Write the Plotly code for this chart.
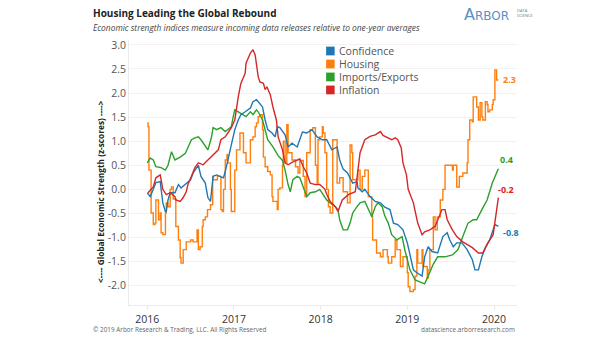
import plotly.graph_objects as go

# ---------------- data (decimal years, z-scores) ----------------
conf_x = [2016.00, 2016.035, 2016.07, 2016.10, 2016.15, 2016.16, 2016.18, 2016.21, 2016.22, 2016.24,
          2016.265, 2016.32, 2016.36, 2016.39, 2016.44, 2016.50, 2016.53, 2016.565, 2016.59, 2016.62,
          2016.67, 2016.70, 2016.73, 2016.76, 2016.80, 2016.84, 2016.88, 2016.90, 2016.93, 2016.97,
          2017.01, 2017.05, 2017.08, 2017.13, 2017.19, 2017.22, 2017.26, 2017.28, 2017.33, 2017.36,
          2017.39, 2017.44, 2017.475, 2017.50, 2017.53, 2017.59, 2017.625, 2017.67, 2017.73, 2017.79,
          2017.84, 2017.90, 2017.96, 2018.02, 2018.07, 2018.13, 2018.19, 2018.22, 2018.26, 2018.31,
          2018.34, 2018.37, 2018.42, 2018.43, 2018.48, 2018.51, 2018.57, 2018.63, 2018.69, 2018.74,
          2018.80, 2018.84, 2018.89, 2018.95, 2019.00, 2019.03, 2019.07, 2019.11, 2019.17, 2019.20,
          2019.24, 2019.285, 2019.35, 2019.41, 2019.46, 2019.49, 2019.53, 2019.57, 2019.63, 2019.69,
          2019.75, 2019.78, 2019.82, 2019.86, 2019.90, 2019.95, 2019.99, 2020.01, 2020.05]
conf_y = [-0.07, -0.15, 0.0, 0.14, 0.16, 0.0, -0.28, -0.46, -0.46, -0.22,
          -0.07, -0.07, 0.10, 0.03, 0.10, 0.20, 0.34, 0.45, 0.50, 0.27,
          0.13, -0.17, -0.25, 0.27, 0.30, 0.27, 0.24, 0.37, 0.61, 0.96,
          1.24, 1.44, 1.55, 1.61, 1.69, 1.82, 1.86, 1.82, 1.71, 1.44,
          1.24, 1.17, 1.09, 1.30, 1.28, 1.13, 0.88, 0.96, 0.88, 1.19,
          1.17, 1.24, 1.09, 1.03, 1.03, 0.82, 0.88, 0.61, 0.42, 0.34,
          0.24, 0.13, 0.16, 0.03, -0.05, 0.0, -0.15, -0.25, -0.28, -0.37,
          -0.42, -0.70, -0.73, -0.84, -1.11, -1.36, -1.67, -1.73, -1.80, -1.40,
          -1.19, -1.29, -1.32, -0.98, -0.90, -1.05, -1.19, -1.11, -1.11, -1.25,
          -1.46, -1.67, -1.67, -1.40, -1.21, -1.05, -0.84, -0.73, -0.77]

hous_x = [2016.00, 2016.01, 2016.02, 2016.045, 2016.07, 2016.09, 2016.10, 2016.13, 2016.15, 2016.16,
          2016.18, 2016.21, 2016.22, 2016.24, 2016.265, 2016.28, 2016.30, 2016.33, 2016.36, 2016.38,
          2016.39, 2016.415, 2016.45, 2016.50, 2016.53, 2016.565, 2016.575, 2016.59, 2016.61, 2016.635,
          2016.645, 2016.67, 2016.695, 2016.73, 2016.755, 2016.76, 2016.81, 2016.84, 2016.85, 2016.865,
          2016.88, 2016.90, 2016.92, 2016.93, 2016.96, 2016.97, 2016.99, 2017.01, 2017.03, 2017.07,
          2017.11, 2017.14, 2017.19, 2017.22, 2017.245, 2017.26, 2017.28, 2017.30, 2017.33, 2017.34,
          2017.36, 2017.39, 2017.42, 2017.44, 2017.45, 2017.50, 2017.51, 2017.53, 2017.56, 2017.57,
          2017.59, 2017.61, 2017.625, 2017.67, 2017.71, 2017.74, 2017.76, 2017.80, 2017.82, 2017.84,
          2017.88, 2017.91, 2017.94, 2017.96, 2017.97, 2017.99, 2018.02, 2018.03, 2018.05, 2018.07,
          2018.09, 2018.11, 2018.14, 2018.17, 2018.19, 2018.22, 2018.26, 2018.31, 2018.34, 2018.36,
          2018.37, 2018.43, 2018.455, 2018.48, 2018.51, 2018.55, 2018.59, 2018.60, 2018.645, 2018.69,
          2018.72, 2018.77, 2018.78, 2018.82, 2018.86, 2018.88, 2018.92, 2018.95, 2019.00, 2019.01,
          2019.03, 2019.07, 2019.09, 2019.11, 2019.12, 2019.17, 2019.18, 2019.23, 2019.24, 2019.26,
          2019.30, 2019.32, 2019.345, 2019.38, 2019.41, 2019.435, 2019.47, 2019.52, 2019.53, 2019.57,
          2019.60, 2019.64, 2019.69, 2019.70, 2019.72, 2019.75, 2019.76, 2019.78, 2019.80, 2019.82,
          2019.84, 2019.86, 2019.87, 2019.90, 2019.92, 2019.93, 2019.95, 2019.98, 2019.99, 2020.01,
          2020.03, 2020.05]
hous_y = [1.38, 1.30, 0.40, -0.49, -0.73, -0.70, -0.22, -0.63, -0.49, -0.90,
          -0.94, -0.49, -0.28, -0.36, 0.0, 0.05, -0.20, -0.77, -1.05, -1.42,
          -1.53, -1.25, -1.09, -1.05, -1.09, -1.09, -0.84, -1.25, -1.19, -0.77,
          -0.63, -0.57, -0.42, -0.32, 0.27, 0.20, 0.27, 0.27, -0.42, -0.46,
          0.0, 0.61, 0.72, 0.55, 0.0, -0.46, -0.46, 0.40, 0.82, 1.17,
          0.76, 0.55, 1.03, 1.09, 1.30, 1.38, 1.51, 1.55, 1.24, 0.67,
          0.47, 0.37, 0.30, -0.15, -0.25, -0.42, 0.0, 0.03, 0.50, 1.00,
          0.55, 1.34, 0.76, 0.61, 0.47, 0.34, 0.60, 0.27, -0.15, 0.76,
          1.24, 1.28, 0.50, 0.13, 1.03, 1.09, 1.30, 1.17, 0.76, 0.0,
          -0.36, -0.49, 1.03, 1.03, 0.13, 0.24, -0.05, -0.28, 0.92, 0.76,
          0.20, 0.40, 0.0, 0.27, 0.40, -0.15, -0.57, -1.05, -1.32, -1.40,
          -1.25, -1.40, -1.53, -1.40, -1.05, -1.25, -1.60, -1.40, -1.73, -2.02,
          -2.12, -2.08, -1.80, -1.25, -1.53, -1.25, -1.60, -1.84, -1.67, -1.25,
          -0.57, -0.84, -0.57, -0.22, 0.0, 0.50, 0.50, 0.40, 0.50, 0.05,
          0.27, 0.34, 0.55, 1.03, 1.44, 1.40, 1.92, 1.92, 1.71, 1.44,
          1.80, 1.51, 1.44, 1.82, 1.76, 1.61, 1.65, 1.76, 1.86, 2.48,
          2.27, 2.27]

trade_x = [2016.00, 2016.035, 2016.07, 2016.10, 2016.16, 2016.21, 2016.24, 2016.265, 2016.28, 2016.32,
           2016.38, 2016.44, 2016.47, 2016.51, 2016.55, 2016.59, 2016.62, 2016.67, 2016.70, 2016.74,
           2016.76, 2016.80, 2016.85, 2016.90, 2016.93, 2016.97, 2016.99, 2017.01, 2017.05, 2017.11,
           2017.14, 2017.19, 2017.22, 2017.26, 2017.28, 2017.33, 2017.36, 2017.39, 2017.45, 2017.51,
           2017.56, 2017.59, 2017.625, 2017.65, 2017.68, 2017.73, 2017.76, 2017.82, 2017.84, 2017.88,
           2017.94, 2017.99, 2018.03, 2018.07, 2018.11, 2018.17, 2018.20, 2018.22, 2018.26, 2018.31,
           2018.34, 2018.37, 2018.42, 2018.455, 2018.51, 2018.55, 2018.59, 2018.63, 2018.66, 2018.71,
           2018.74, 2018.78, 2018.82, 2018.88, 2018.94, 2018.97, 2019.03, 2019.09, 2019.15, 2019.20,
           2019.24, 2019.30, 2019.35, 2019.435, 2019.52, 2019.585, 2019.64, 2019.70, 2019.76, 2019.80,
           2019.86, 2019.92, 2019.98, 2020.01, 2020.05]
trade_y = [0.55, 0.65, 0.61, 0.47, 0.45, 0.40, 0.50, 0.71, 0.78, 0.61,
           0.67, 0.75, 0.86, 1.03, 1.07, 1.09, 1.03, 0.88, 0.82, 1.07,
           1.28, 1.24, 1.28, 1.20, 1.24, 1.30, 1.49, 1.65, 1.61, 1.55,
           1.51, 1.61, 1.55, 1.65, 1.61, 1.44, 1.24, 1.03, 0.88, 0.70,
           0.60, 0.40, 0.10, -0.05, 0.20, 0.27, 0.24, -0.07, -0.15, -0.07,
           -0.05, 0.0, -0.11, -0.22, -0.28, -0.36, -0.42, -0.63, -0.84, -0.84,
           -0.70, -0.49, -0.36, -0.28, -0.25, -0.42, -0.57, -0.36, -0.28, -0.36,
           -0.55, -0.70, -0.94, -1.05, -0.98, -1.25, -1.67, -1.88, -1.92, -1.96,
           -1.80, -1.55, -1.40, -1.40, -1.36, -1.25, -0.98, -0.70, -0.63, -0.63,
           -0.42, -0.22, 0.13, 0.27, 0.43]

infl_x = [2016.01, 2016.07, 2016.10, 2016.15, 2016.16, 2016.18, 2016.22, 2016.265, 2016.32, 2016.33,
          2016.38, 2016.415, 2016.45, 2016.47, 2016.51, 2016.55, 2016.59, 2016.645, 2016.70, 2016.76,
          2016.82, 2016.85, 2016.90, 2016.93, 2016.97, 2017.01, 2017.03, 2017.05, 2017.08, 2017.13,
          2017.14, 2017.19, 2017.22, 2017.245, 2017.28, 2017.30, 2017.34, 2017.36, 2017.38, 2017.42,
          2017.45, 2017.49, 2017.51, 2017.56, 2017.59, 2017.625, 2017.68, 2017.76, 2017.80, 2017.84,
          2017.88, 2017.94, 2017.99, 2018.05, 2018.07, 2018.11, 2018.17, 2018.20, 2018.25, 2018.32,
          2018.40, 2018.43, 2018.455, 2018.51, 2018.57, 2018.63, 2018.69, 2018.72, 2018.77, 2018.82,
          2018.86, 2018.89, 2018.93, 2018.95, 2018.99, 2019.01, 2019.07, 2019.12, 2019.17, 2019.20,
          2019.26, 2019.32, 2019.40, 2019.435, 2019.46, 2019.52, 2019.57, 2019.64, 2019.75, 2019.82,
          2019.87, 2019.93, 2019.99, 2020.01, 2020.05]
infl_y = [-0.07, 0.05, 0.24, 0.30, 0.20, 0.0, -0.11, -0.07, -0.15, -0.22,
          -0.25, -0.17, -0.05, 0.10, 0.27, 0.45, 0.55, 0.51, 0.61, 0.71,
          0.82, 1.03, 1.09, 1.17, 1.28, 1.44, 1.71, 1.92, 2.20, 2.41,
          2.62, 2.83, 2.90, 2.79, 2.34, 2.23, 2.20, 2.07, 2.13, 1.96,
          1.71, 1.44, 1.09, 0.82, 0.55, 0.51, 0.57, 0.63, 0.47, 0.34,
          0.13, 0.10, 0.10, 0.0, -0.10, -0.25, -0.36, -0.46, -0.22, -0.11,
          -0.05, 0.40, 0.76, 1.03, 1.10, 1.13, 1.20, 1.12, 1.07, 1.03,
          1.07, 1.03, 0.86, 0.55, 0.30, 0.0, -0.28, -0.70, -0.94, -0.88,
          -0.84, -0.77, -0.42, -0.42, -0.63, -0.84, -0.98, -1.09, -1.21, -1.32,
          -1.32, -1.11, -0.94, -0.69, -0.17]

series_names = ["Confidence", "Housing", "Imports/Exports", "Inflation"]
series_colors = ["#1f77b4", "#ff7f0e", "#2ca02c", "#d62728"]
end_labels = ["-0.8", "2.3", "0.4", "-0.2"]

y_ticks = [-2.0, -1.5, -1.0, -0.5, 0.0, 0.5, 1.0, 1.5, 2.0, 2.5, 3.0]
x_ticks = [2016, 2017, 2018, 2019, 2020]

FONT = "Open Sans"

fig = go.Figure()

series = [(conf_x, conf_y, "linear"), (hous_x, hous_y, "hv"),
          (trade_x, trade_y, "linear"), (infl_x, infl_y, "linear")]

# draw order: housing at back, then others
order = [1, 2, 0, 3]
for i in order:
    xs, ys, shape = series[i]
    fig.add_trace(go.Scatter(x=xs, y=ys, mode="lines", name=series_names[i],
                             line=dict(color=series_colors[i], width=1.4, shape=shape),
                             showlegend=False, hoverinfo="skip"))

# end-of-line labels
label_shift = {0: (3, -6), 1: (3, 0), 2: (0, 9), 3: (-2, 8)}
for i, (xs, ys, _) in enumerate(series):
    dx, dy = label_shift[i]
    fig.add_annotation(x=xs[-1], y=ys[-1], xref="x", yref="y", text="<b>" + end_labels[i] + "</b>",
                       showarrow=False, xanchor="left", yanchor="middle", xshift=dx, yshift=dy,
                       font=dict(family=FONT, size=9, color=series_colors[i]))

# legend (squares + text)
for k, i in enumerate(range(4)):
    ytop = 0.975 - k * 0.049
    fig.add_shape(type="rect", xref="paper", yref="paper",
                  x0=0.508, x1=0.508 + 0.022, y0=ytop - 0.033, y1=ytop,
                  fillcolor=series_colors[i], line=dict(width=0))
    fig.add_annotation(xref="paper", yref="paper", x=0.537, y=ytop - 0.0165, text=series_names[i],
                       showarrow=False, xanchor="left", yanchor="middle",
                       font=dict(family=FONT, size=10.5, color="#555555"))

# title / subtitle
fig.add_annotation(xref="paper", yref="paper", x=-0.0985, y=1.102, xanchor="left", yanchor="middle",
                   text="<b>Housing Leading the Global Rebound</b>", showarrow=False,
                   font=dict(family=FONT, size=10, color="#222222"))
fig.add_annotation(xref="paper", yref="paper", x=-0.0985, y=1.047, xanchor="left", yanchor="middle",
                   text="<i>Economic strength indices measure incoming data releases relative to one-year averages</i>",
                   showarrow=False, font=dict(family=FONT, size=8.4, color="#444444"))

# logo
fig.add_annotation(xref="paper", yref="paper", x=0.858, y=1.098, xanchor="left", yanchor="middle",
                   text="<span style='font-size:16px'>A</span>RBOR", showarrow=False,
                   font=dict(family="DejaVu Sans", size=12, color="#5b8fc7"))
fig.add_annotation(xref="paper", yref="paper", x=0.995, y=1.100, xanchor="left", yanchor="middle",
                   text="DATA<br>SCIENCE", showarrow=False, align="left",
                   font=dict(family=FONT, size=4, color="#777777"))

# footer
fig.add_annotation(xref="paper", yref="paper", x=-0.0985, y=-0.0906, xanchor="left", yanchor="middle",
                   text="© 2019 Arbor Research & Trading, LLC. All Rights Reserved", showarrow=False,
                   font=dict(family=FONT, size=6.4, color="#666666"))
fig.add_annotation(xref="paper", yref="paper", x=1.0, y=-0.0906, xanchor="right", yanchor="middle",
                   text="datascience.arborresearch.com", showarrow=False,
                   font=dict(family=FONT, size=6.4, color="#666666"))

# y-axis title
fig.add_annotation(xref="paper", yref="paper", x=-0.075, y=0.43, xanchor="center", yanchor="middle",
                   text="<b>&lt;---- Global Economic Strength (z-scores) ----&gt;</b>", textangle=-90,
                   showarrow=False, font=dict(family=FONT, size=8.3, color="#222222"))

fig.update_layout(
    width=605, height=341,
    margin=dict(l=129, r=88, t=40, b=36),
    paper_bgcolor="white", plot_bgcolor="white",
    showlegend=False,
    xaxis=dict(range=[2015.79, 2020.265], tickvals=x_ticks, ticktext=[str(t) for t in x_ticks],
               showgrid=False, zeroline=False, showline=True, linecolor="#ebebeb", linewidth=1,
               ticks="outside", ticklen=4, tickcolor="#ebebeb",
               tickfont=dict(family=FONT, size=10.5, color="#333333")),
    yaxis=dict(range=[-2.4, 3.1], tickvals=y_ticks, ticktext=[f"{v:.1f}" for v in y_ticks],
               showgrid=True, gridcolor="#f2f2f2", gridwidth=1, zeroline=False,
               showline=True, linecolor="#ebebeb", linewidth=1, ticks="",
               tickfont=dict(family=FONT, size=10.5, color="#555555")),
)

fig.write_html("out.html")
